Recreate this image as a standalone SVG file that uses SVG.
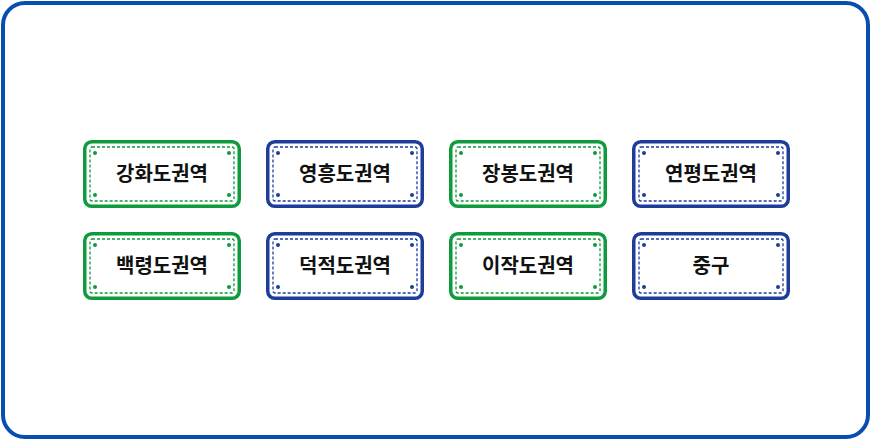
<svg xmlns="http://www.w3.org/2000/svg" width="871" height="440" viewBox="0 0 871 440">
<style>
.o{fill:#fff;stroke:currentColor;stroke-width:3.5}
.i{fill:none;stroke:currentColor;stroke-width:1.3;stroke-dasharray:3 2}
.d{fill:currentColor}
.g{color:#0f9a3e}
.b{color:#1e3c9a}
text{font-family:"Noto Sans CJK KR",sans-serif;font-size:20px;font-weight:bold;text-anchor:middle;fill:#111}
</style>
<defs>
<g id="n"><rect class="o" x="1.75" y="1.75" width="154.5" height="64.5" rx="7"/><rect class="i" x="7" y="7" width="144" height="54" rx="2"/>
<circle class="d" cx="12" cy="13" r="2"/><circle class="d" cx="146" cy="13" r="2"/><circle class="d" cx="12" cy="55" r="2"/><circle class="d" cx="146" cy="55" r="2"/></g>
</defs>
<rect x="3" y="3" width="865" height="434" rx="22" fill="#fff" stroke="#0a4db0" stroke-width="4"/>
<g id="n1" class="g" transform="translate(83,140)"><use href="#n"/><text x="79" y="41">강화도권역</text></g>
<g id="n2" class="b" transform="translate(266,140)"><use href="#n"/><text x="79" y="41">영흥도권역</text></g>
<g id="n3" class="g" transform="translate(449,140)"><use href="#n"/><text x="79" y="41">장봉도권역</text></g>
<g id="n4" class="b" transform="translate(632,140)"><use href="#n"/><text x="79" y="41">연평도권역</text></g>
<g id="n5" class="g" transform="translate(83,232)"><use href="#n"/><text x="79" y="41">백령도권역</text></g>
<g id="n6" class="b" transform="translate(266,232)"><use href="#n"/><text x="79" y="41">덕적도권역</text></g>
<g id="n7" class="g" transform="translate(449,232)"><use href="#n"/><text x="79" y="41">이작도권역</text></g>
<g id="n8" class="b" transform="translate(632,232)"><use href="#n"/><text x="79" y="41">중구</text></g>
<g id="connectors"/>
</svg>
